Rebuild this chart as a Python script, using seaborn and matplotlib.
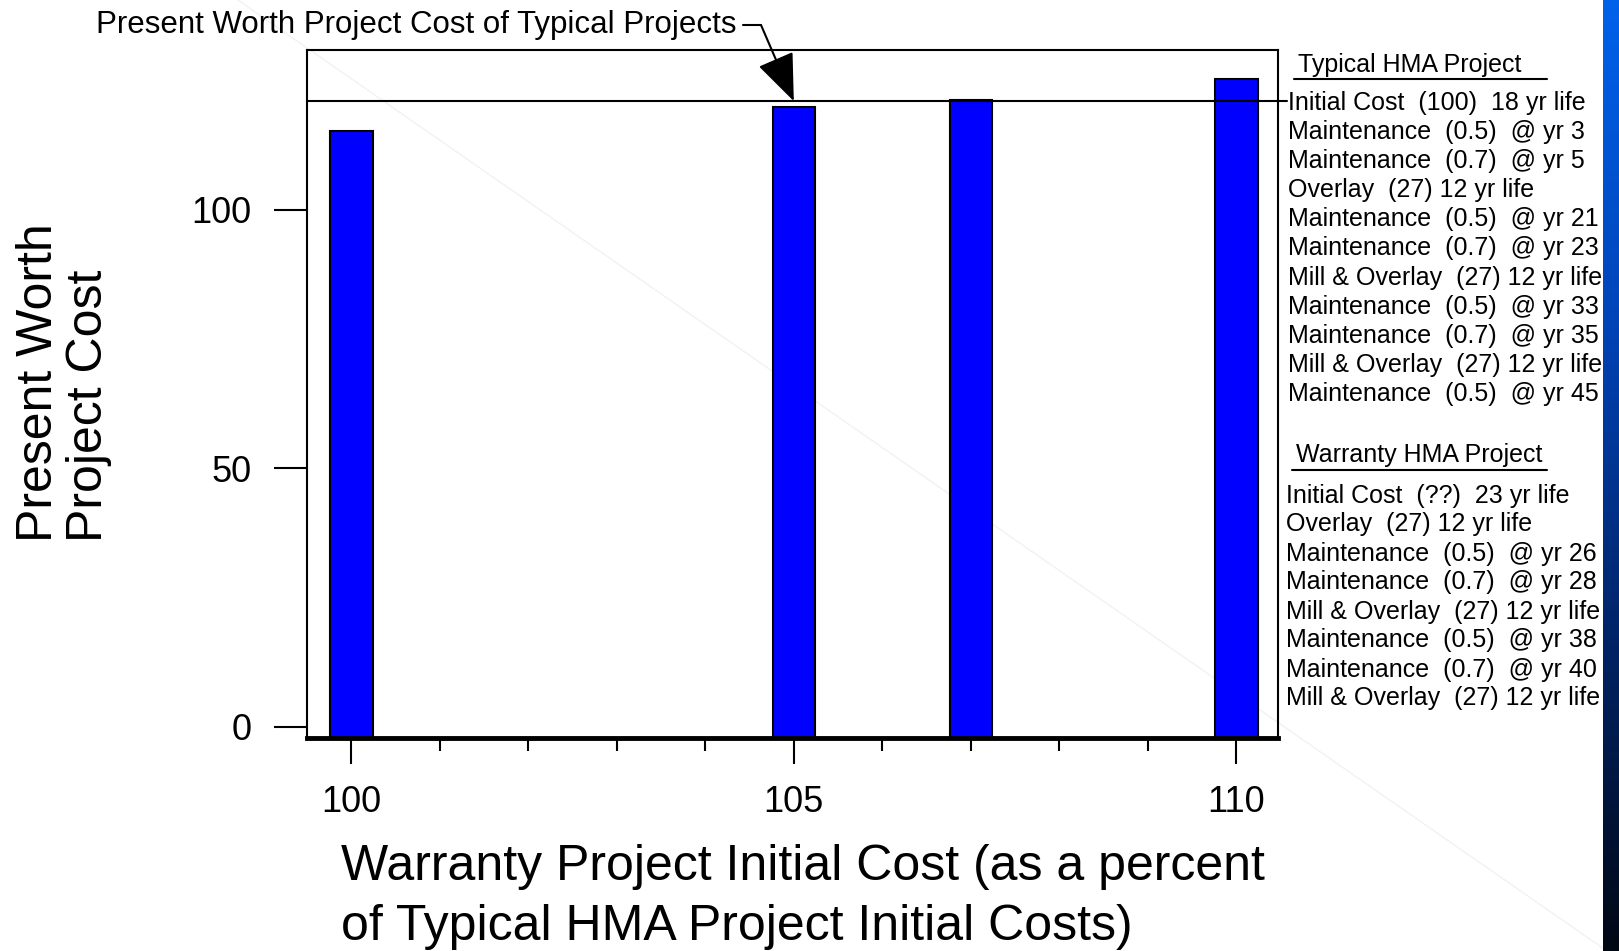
import numpy as np
import pandas as pd
import matplotlib.pyplot as plt
import matplotlib.colors as mcolors
from matplotlib.lines import Line2D
from matplotlib.ticker import MultipleLocator
import seaborn as sns

# warranty initial cost (% of typical HMA initial cost) vs present worth cost
warranty_pct = [100, 105, 107, 110]
present_worth = [115.2, 119.8, 121.2, 125.3]
typical_pw = 121.0

x_ticks = [100, 105, 110]
y_ticks = [0, 50, 100]

typical_items = [
    "Initial Cost  (100)  18 yr life",
    "Maintenance  (0.5)  @ yr 3",
    "Maintenance  (0.7)  @ yr 5",
    "Overlay  (27) 12 yr life",
    "Maintenance  (0.5)  @ yr 21",
    "Maintenance  (0.7)  @ yr 23",
    "Mill & Overlay  (27) 12 yr life",
    "Maintenance  (0.5)  @ yr 33",
    "Maintenance  (0.7)  @ yr 35",
    "Mill & Overlay  (27) 12 yr life",
    "Maintenance  (0.5)  @ yr 45",
]
warranty_items = [
    "Initial Cost  (??)  23 yr life",
    "Overlay  (27) 12 yr life",
    "Maintenance  (0.5)  @ yr 26",
    "Maintenance  (0.7)  @ yr 28",
    "Mill & Overlay  (27) 12 yr life",
    "Maintenance  (0.5)  @ yr 38",
    "Maintenance  (0.7)  @ yr 40",
    "Mill & Overlay  (27) 12 yr life",
]

sns.set_theme(style="white")
plt.rcParams['font.family'] = ['Liberation Sans', 'DejaVu Sans']
plt.rcParams['text.color'] = 'black'

W, H = 1619, 951
fig = plt.figure(figsize=(W / 100, H / 100), dpi=100)
fig.patch.set_facecolor('white')


def fx(px):
    return px / W


def fy(py):
    return 1 - py / H


# faint streak of the slide background
fig.add_artist(Line2D([fx(238), fx(1607)], [fy(0), fy(951)], color='#f2f2f2', lw=1, zorder=0))

# blue gradient strip at the right edge of the slide
strip_cmap = mcolors.LinearSegmentedColormap.from_list(
    'strip', ['#0062ea', '#0044b8', '#002468', '#000814'])
strip = fig.add_axes([fx(1603), 0, fx(16), 1])
strip.imshow(np.linspace(0, 1, 256).reshape(-1, 1), aspect='auto', cmap=strip_cmap)
strip.axis('off')

ax = fig.add_axes([fx(307), fy(738), fx(971), 688 / H])
ax.patch.set_alpha(0)

df = pd.DataFrame({'pct': warranty_pct, 'pw': present_worth})
sns.barplot(data=df, x='pct', y='pw', native_scale=True, width=0.24,
            color='#0000ff', saturation=1, edgecolor='black', linewidth=1.5,
            errorbar=None, ax=ax)

y_lo = -2.2
ax.set_ylim(y_lo, 130.9)
ax.set_xlim(99.5, 110.47)
# bars in the original run down to the frame bottom
for p in ax.patches:
    p.set_y(y_lo)
    p.set_height(p.get_height() - y_lo)

ax.axhline(typical_pw, xmin=0, xmax=1.009, color='black', lw=1.5, clip_on=False, zorder=5)

ax.set_xticks(x_ticks)
ax.set_yticks(y_ticks)
ax.xaxis.set_minor_locator(MultipleLocator(1))
ax.tick_params(axis='x', which='major', bottom=True, length=18.6, width=1.5,
               pad=15, labelsize=26, color='black', labelcolor='black')
ax.tick_params(axis='x', which='minor', bottom=True, length=9, width=1.5, color='black')
ax.tick_params(axis='y', which='major', left=True, length=24, width=1.5,
               pad=16, labelsize=26, color='black', labelcolor='black')
ax.set_xlabel('')
ax.set_ylabel('')
for side in ['left', 'right', 'top', 'bottom']:
    ax.spines[side].set_color('black')
    ax.spines[side].set_linewidth(1.5)
ax.spines['bottom'].set_linewidth(3.5)

# annotation pointing at the typical project cost line
fig.text(fx(96), fy(25), 'Present Worth Project Cost of Typical Projects',
         ha='left', va='center', fontsize=22.5)
fig.add_artist(Line2D([fx(743), fx(761)], [fy(25), fy(25)], color='black', lw=1.5))
ax.annotate('', xy=(105, typical_pw), xycoords='data',
            xytext=(fx(761), fy(25)), textcoords='figure fraction',
            arrowprops=dict(arrowstyle='-|>,head_length=1.5,head_width=0.6',
                            color='black', lw=1.5, shrinkA=0, shrinkB=0,
                            mutation_scale=20))

# axis titles
fig.text(fx(341), fy(897),
         'Warranty Project Initial Cost (as a percent\nof Typical HMA Project Initial Costs)',
         ha='left', va='center', fontsize=36, linespacing=1.37)
fig.text(fx(64), fy(542), 'Present Worth\nProject Cost', rotation=90,
         ha='center', va='bottom', multialignment='left', fontsize=36, linespacing=1.12)

# project descriptions on the right
fig.text(fx(1298), fy(65), 'Typical HMA Project', ha='left', va='center', fontsize=18)
fig.add_artist(Line2D([fx(1294), fx(1547)], [fy(78.5), fy(78.5)], color='black', lw=1.5))
for i, item in enumerate(typical_items):
    fig.text(fx(1288), fy(103 + 29.1 * i), item, ha='left', va='center', fontsize=18)

fig.text(fx(1296), fy(455), 'Warranty HMA Project', ha='left', va='center', fontsize=18)
fig.add_artist(Line2D([fx(1292), fx(1547)], [fy(470), fy(470)], color='black', lw=1.5))
for i, item in enumerate(warranty_items):
    fig.text(fx(1286), fy(495.5 + 29.0 * i), item, ha='left', va='center', fontsize=18)

fig.savefig('out.png', dpi=100, facecolor='white')
